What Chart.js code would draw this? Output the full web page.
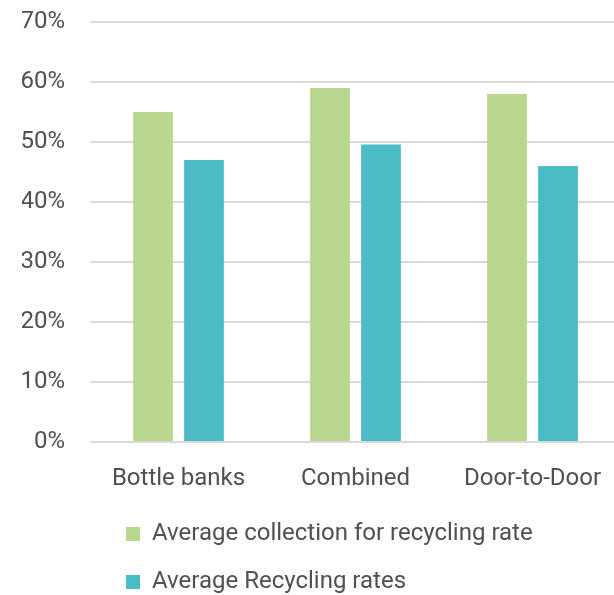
<!DOCTYPE html>
<html>
<head>
<meta charset="utf-8">
<script src="https://cdn.jsdelivr.net/npm/chart.js@4/dist/chart.umd.min.js"></script>
<style>
  html, body { margin: 0; padding: 0; background: #fff; overflow: hidden; }
  #wrap { width: 621px; height: 595px; position: relative; }
</style>
</head>
<body>
<div id="wrap"><canvas id="c" width="621" height="595"></canvas></div>
<script>
const categories = ["Bottle banks", "Combined", "Door-to-Door"];
const collectionRate = [55, 59, 58];
const recyclingRate = [47, 49.6, 46];
const seriesNames = ["Average collection for recycling rate", "Average Recycling rates"];
const yTicks = [0, 10, 20, 30, 40, 50, 60, 70];

const textColor = '#505050';
const gridColor = '#d9d9d9';
const fontFamily = 'Roboto';
const fontSize = 24;

const legendShift = {
  id: 'legendShift',
  afterLayout(chart) {
    const lg = chart.legend;
    if (lg) {
      lg.left = 102;
      lg.top += 9;
    }
  }
};

new Chart(document.getElementById('c'), {
  type: 'bar',
  data: {
    labels: categories,
    datasets: [
      { label: seriesNames[0], data: collectionRate, backgroundColor: '#b9d68f', borderWidth: 0 },
      { label: seriesNames[1], data: recyclingRate, backgroundColor: '#4bbcc5', borderWidth: 0 }
    ]
  },
  options: {
    responsive: false,
    animation: false,
    events: [],
    layout: { padding: { top: 22, left: 22, right: 0, bottom: 0 } },
    datasets: { bar: { categoryPercentage: 0.576, barPercentage: 0.78 } },
    scales: {
      x: {
        grid: { display: false, drawTicks: false },
        border: { display: false },
        ticks: { color: textColor, font: { family: fontFamily, size: fontSize }, padding: 23, maxRotation: 0 },
        afterFit(scale) { scale.height = 47; scale.paddingLeft = 0; scale.paddingRight = 0; }
      },
      y: {
        min: 0,
        max: 70,
        afterBuildTicks(scale) { scale.ticks = yTicks.map(v => ({ value: v })); },
        grid: { color: gridColor, lineWidth: 2, drawTicks: false },
        border: { display: false },
        ticks: {
          color: textColor,
          font: { family: fontFamily, size: fontSize },
          padding: 25,
          callback: v => v + '%'
        },
        afterFit(scale) { scale.width = 68; scale.paddingTop = 0; scale.paddingBottom = 0; }
      }
    },
    plugins: {
      legend: {
        position: 'bottom',
        align: 'start',
        labels: {
          color: textColor,
          font: { family: fontFamily, size: fontSize },
          boxWidth: 14,
          boxHeight: 14,
          padding: 24
        }
      },
      tooltip: { enabled: false }
    }
  },
  plugins: [legendShift]
});
</script>
</body>
</html>
